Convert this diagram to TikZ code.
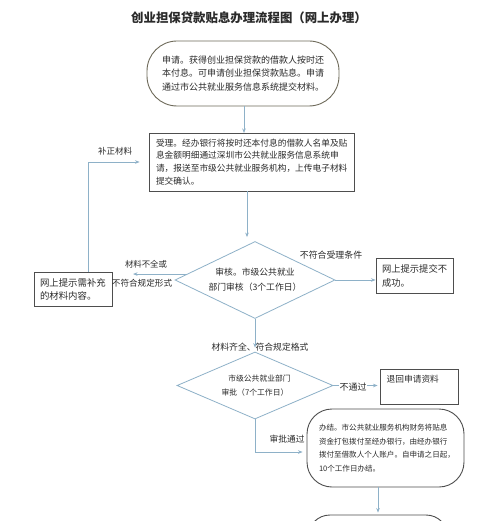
\documentclass[tikz,border=0pt]{standalone}
\usepackage{fontspec}
\setmainfont{Noto Sans CJK SC}
\usetikzlibrary{arrows.meta,shapes.geometric}
\definecolor{arrowc}{HTML}{8EB1C8}
\definecolor{boxc}{HTML}{4E4E4E}
\definecolor{ellc}{HTML}{6E6A5A}
\definecolor{txtc}{HTML}{2A2A2A}
\tikzset{
  boxnode/.style={draw=boxc, line width=0.9pt, rectangle, align=left, inner ysep=0pt, text=txtc},
  ellnode/.style={draw=ellc, line width=0.9pt, rectangle, align=left, inner ysep=0pt, text=txtc},
  dianode/.style={draw=arrowc, line width=0.8pt, diamond, inner sep=0pt, align=center, text=txtc},
  lbl/.style={inner sep=0.5pt, text=txtc},
  arr/.style={draw=arrowc, line width=0.9pt, -{Stealth[length=4.5pt,width=3.5pt]}},
  ln/.style={draw=arrowc, line width=0.9pt}
}
\begin{document}
\begin{tikzpicture}[x=1pt,y=-1pt]
\useasboundingbox (0,0) rectangle (500,521);
\fill[white] (0,0) rectangle (500,521);
\clip (0,0) rectangle (500,521);

% title
\node[lbl, font=\fontsize{12.4}{14}\selectfont\bfseries] (title) at (249,18) {创业担保贷款贴息办理流程图（网上办理）};

% nodes
\node[ellnode, rounded corners=30pt, minimum width=192pt, minimum height=65pt, text width=162pt, inner xsep=15pt,
      font=\fontsize{9}{13.5}\selectfont] (e1) at (243,73.5)
  {申请。获得创业担保贷款的借款人按时还\\本付息。可申请创业担保贷款贴息。申请\\通过市公共就业服务信息系统提交材料。};

\node[boxnode, minimum height=58pt, text width=191pt, inner xsep=7pt,
      font=\fontsize{8.7}{12.8}\selectfont] (r2) at (251.5,162)
  {受理。经办银行将按时还本付息的借款人名单及贴\\息金额明细通过深圳市公共就业服务信息系统申\\请，报送至市级公共就业服务机构，上传电子材料\\提交确认。};

\node[dianode, aspect=2.08, minimum width=160pt, minimum height=77pt,
      font=\fontsize{8.8}{15}\selectfont] (d1) at (255,280)
  {审核。市级公共就业\\部门审核（3个工作日）};

\node[boxnode, minimum height=35pt, text width=65pt, inner xsep=6pt,
      font=\fontsize{9.3}{14}\selectfont] (rb) at (414.5,275.5)
  {网上提示提交不\\成功。};

\node[boxnode, minimum height=34pt, text width=66pt, inner xsep=6pt,
      font=\fontsize{9.4}{13}\selectfont] (lb) at (73,289)
  {网上提示需补充\\的材料内容。};

\node[dianode, aspect=2.33, minimum width=156pt, minimum height=67pt,
      font=\fontsize{7.8}{14}\selectfont] (d2) at (255,385.5)
  {\hspace*{9pt}市级公共就业部门\\审批（7个工作日）};

\node[boxnode, minimum width=78pt, minimum height=35pt] (ret) at (419,386.5) {};
\node[lbl, anchor=west, font=\fontsize{8.7}{10}\selectfont] (rettxt) at (386,379) {退回申请资料};

\node[boxnode, rounded corners=25pt, minimum height=78pt, text width=133pt, inner xsep=12pt,
      font=\fontsize{7.55}{13.5}\selectfont] (b3) at (385.5,448)
  {办结。市公共就业服务机构财务将贴息\\资金打包拨付至经办银行，由经办银行\\拨付至借款人个人账户。自申请之日起，\\10个工作日办结。};

\node[boxnode, rounded corners=22pt, minimum width=140pt, minimum height=70pt] (b4) at (378,550) {};

% labels
\node[lbl, font=\fontsize{8.9}{10}\selectfont] (l1) at (331,255) {不符合受理条件};
\node[lbl, font=\fontsize{8.4}{10}\selectfont] (l2) at (146,264) {材料不全或};
\node[lbl, font=\fontsize{8.6}{10}\selectfont] (l3) at (142,283) {不符合规定形式};
\node[lbl, font=\fontsize{8.5}{10}\selectfont] (l4) at (115,151) {补正材料};
\node[lbl, font=\fontsize{8.8}{10}\selectfont] (l5) at (260,347) {材料齐全、符合规定格式};
\node[lbl, font=\fontsize{8.75}{10}\selectfont] (l7) at (287,439) {审批通过};

% connectors
\coordinate (lt) at (133,275);
\draw[arr] (e1.south -| 244,0) -- (244,133);
\draw[arr, shorten >=4pt] ([xshift=-4.5pt]r2.south) -- ([xshift=-4.5pt]r2.south |- d1.north);
\draw[arr] (d1.east) -- (d1.east -| rb.west);
\draw[arr] (d1.175) -- (d1.175 -| lt);
\draw[arr, shorten >=9pt] ([xshift=15pt]lb.north) |- (r2.west);
\draw[arr, shorten >=4pt] (d1.south) -- (d2.north);
\draw[arr, shorten >=2pt] (d2.east) -- (d2.east -| ret.west);
\draw[arr, shorten >=4pt] (d2.south) |- ([yshift=-4pt]b3.west);
\draw[arr, shorten >=2pt] (b4.north |- b3.south) -- (b4.north);

\node[lbl, fill=white, font=\fontsize{9}{10}\selectfont] (l6) at (353,387) {不通过};
\end{tikzpicture}
\end{document}
